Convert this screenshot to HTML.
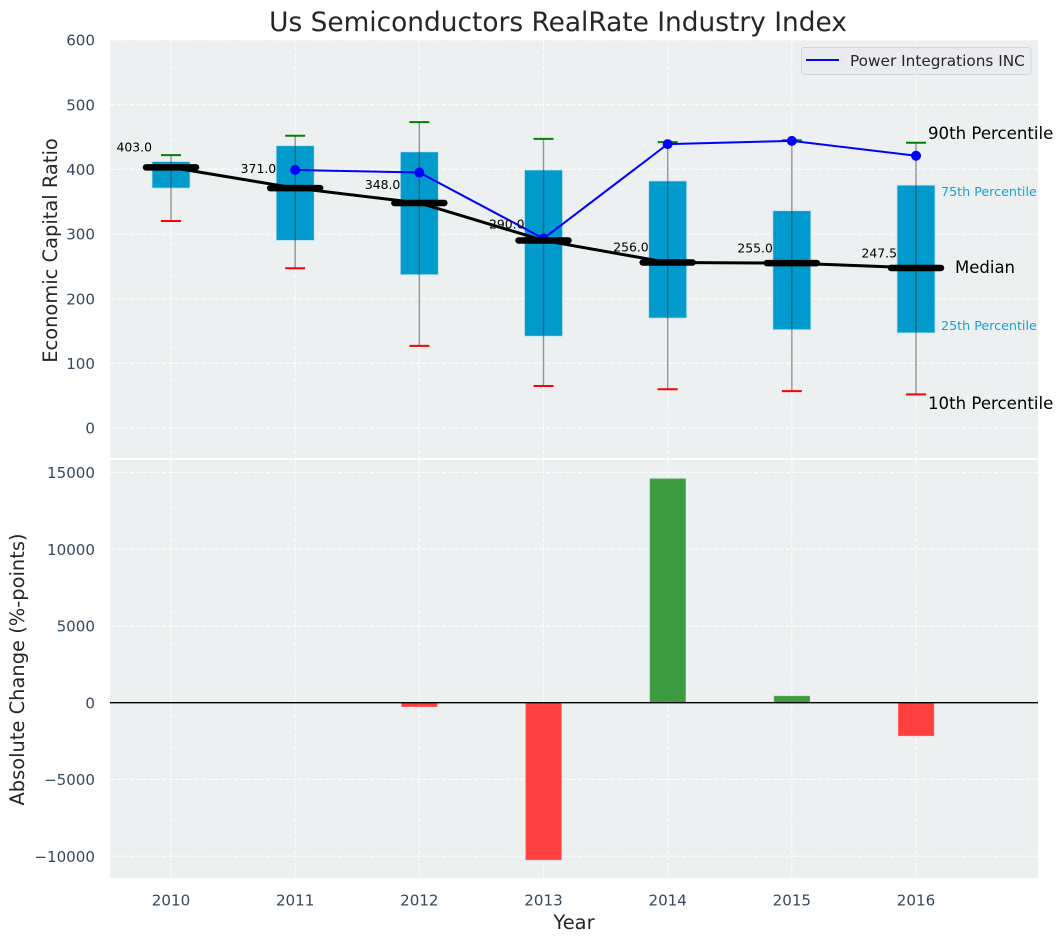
<!DOCTYPE html>
<html>
<head>
<meta charset="utf-8">
<title>Us Semiconductors RealRate Industry Index</title>
<style>
html,body{margin:0;padding:0;background:#fff;width:1063px;height:942px;overflow:hidden}
svg{display:block;font-family:"DejaVu Sans","Liberation Sans",sans-serif}
</style>
</head>
<body>
<svg id="chart" width="1063" height="942" viewBox="0 0 1063 942" xmlns="http://www.w3.org/2000/svg">
  <rect x="110" y="40" width="928" height="418" fill="#ecf0f1"/>
  <rect x="110" y="460" width="928" height="418" fill="#ecf0f1"/>
  <text x="558" y="31" text-anchor="middle" font-size="26.4" fill="#262626">Us Semiconductors RealRate Industry Index</text>
  <text transform="translate(57,250.5) rotate(-90)" text-anchor="middle" font-size="19.45" fill="#262626">Economic Capital Ratio</text>
  <text transform="translate(24,669.5) rotate(-90)" text-anchor="middle" font-size="19.45" fill="#262626">Absolute Change (%-points)</text>
  <text x="574" y="929" text-anchor="middle" font-size="19.45" fill="#262626">Year</text>
  <g id="grid"></g>
  <g id="boxes"></g>
  <g id="bars"></g>
  <line x1="110" x2="1038" y1="702.7" y2="702.7" stroke="#000" stroke-width="1.4"/>
  <g id="lines"></g>
  <g id="ticks"></g>
  <g id="labels"></g>
  <g>
    <text x="928" y="139" font-size="16.6" fill="#000">90th Percentile</text>
    <text x="941" y="196" font-size="12.7" fill="#1a9fcf">75th Percentile</text>
    <text x="955" y="273" font-size="16.5" fill="#000">Median</text>
    <text x="941" y="330" font-size="12.7" fill="#1a9fcf">25th Percentile</text>
    <text x="928" y="409" font-size="16.6" fill="#000">10th Percentile</text>
  </g>
  <g>
    <rect x="801.5" y="47.5" width="229.5" height="27" rx="3" fill="#e9ebf0" stroke="#d2d5d8" stroke-width="1"/>
    <line x1="806" x2="839" y1="60" y2="60" stroke="#0000ff" stroke-width="2"/>
    <text x="850" y="66" font-size="15.3" fill="#262626">Power Integrations INC</text>
  </g>
</svg>
<script>
const years = [2010, 2011, 2012, 2013, 2014, 2015, 2016];
const p10 = [320, 247, 127, 65, 60, 57, 52];
const p25 = [371, 290, 237, 142, 170, 152, 147];
const median = [403, 371, 348, 290, 256, 255, 247.5];
const p75 = [412, 436.5, 427, 399, 382, 336, 375.5];
const p90 = [422, 452, 473, 447, 442, 445, 441];
const company = [null, 399, 395, 293, 439, 444, 421];
const changes = [0, 0, -250, -10230, 14580, 420, -2150];
const topTicks = [0, 100, 200, 300, 400, 500, 600];
const bottomTicks = [-10000, -5000, 0, 5000, 10000, 15000];

const NS = 'http://www.w3.org/2000/svg';
const xScale = v => 171 + (v - 2010) * 124.17;
const yTop = v => 428 - v * 0.6467;
const yBottom = v => 702.7 - v * 0.01535;

function make(parent, tag, attrs, text) {
  const el = document.createElementNS(NS, tag);
  for (const k in attrs) el.setAttribute(k, attrs[k]);
  if (text !== undefined) el.textContent = text;
  document.getElementById(parent).appendChild(el);
  return el;
}
const gridStyle = {stroke: '#ffffff', 'stroke-width': 1.1, 'stroke-dasharray': '4.5 2', opacity: 0.9};

years.forEach(function (yr) {
  const x = xScale(yr);
  const g1 = make('grid', 'line', Object.assign({x1: x, x2: x, y1: 40, y2: 458}, gridStyle));
  
  
  const g2 = make('grid', 'line', Object.assign({x1: x, x2: x, y1: 460, y2: 878}, gridStyle));
  
  
  const t = make('ticks', 'text', {x: x, y: 905.5, 'text-anchor': 'middle', 'font-size': 15.1, fill: '#34495e'}, String(yr));
  
  
});
topTicks.forEach(function (v) {
  const y = yTop(v);
  const g = make('grid', 'line', Object.assign({x1: 110, x2: 1038, y1: y, y2: y}, gridStyle));
  
  
  const t = make('ticks', 'text', {x: 95, y: y + 5.6, 'text-anchor': 'end', 'font-size': 15.1, fill: '#34495e'}, String(v));
  
  
});
bottomTicks.forEach(function (v) {
  const y = yBottom(v);
  const g = make('grid', 'line', Object.assign({x1: 110, x2: 1038, y1: y, y2: y}, gridStyle));
  
  
  const label = v < 0 ? '\u2212' + Math.abs(v) : String(v);
  const t = make('ticks', 'text', {x: 95, y: y + 5.6, 'text-anchor': 'end', 'font-size': 15.1, fill: '#34495e'}, label);
  
  
});

years.forEach(function (yr, i) {
  const x = xScale(yr);
  const top = yTop(p75[i]);
  const bottom = yTop(p25[i]);
  const box = make('boxes', 'rect', {x: x - 19, y: top, width: 38, height: bottom - top, fill: '#009acd', stroke: '#bfe3ef', 'stroke-width': 0.8});
  
  
  const w = make('boxes', 'line', {x1: x, x2: x, y1: yTop(p10[i]), y2: yTop(p90[i]), stroke: '#333333', 'stroke-width': 1.4, opacity: 0.5});
  
  
  const hi = make('boxes', 'line', {x1: x - 10, x2: x + 10, y1: yTop(p90[i]), y2: yTop(p90[i]), stroke: '#008000', 'stroke-width': 2});
  
  
  const lo = make('boxes', 'line', {x1: x - 10, x2: x + 10, y1: yTop(p10[i]), y2: yTop(p10[i]), stroke: '#ff0000', 'stroke-width': 2});
  
  

  const v = changes[i];
  if (v !== 0) {
    const y0 = yBottom(0);
    const y1 = yBottom(v);
    const bar = make('bars', 'rect', {x: x - 17.6, y: Math.min(y0, y1), width: 35.4, height: Math.abs(y1 - y0), fill: v > 0 ? '#3d9c3f' : '#ff4040', stroke: v > 0 ? '#55aa58' : '#ff6060', 'stroke-width': 0.8});
    
    
  }
});

const medianPoints = years.map((yr, i) => xScale(yr) + ',' + yTop(median[i])).join(' ');
const medianLine = make('lines', 'polyline', {points: medianPoints, fill: 'none', stroke: '#000', 'stroke-width': 3});



const companyPoints = years.map((yr, i) => company[i] === null ? null : xScale(yr) + ',' + yTop(company[i])).filter(Boolean).join(' ');
const companyLine = make('lines', 'polyline', {points: companyPoints, fill: 'none', stroke: '#0000ff', 'stroke-width': 2});



years.forEach(function (yr, i) {
  if (company[i] === null) return;
  const dot = make('lines', 'circle', {cx: xScale(yr), cy: yTop(company[i]), r: 5, fill: '#0000ff'});
  
  
});

years.forEach(function (yr, i) {
  const x = xScale(yr);
  const y = yTop(median[i]);
  const m = make('lines', 'line', {x1: x - 25, x2: x + 25, y1: y, y2: y, stroke: '#000', 'stroke-width': 6.5, 'stroke-linecap': 'round'});
  
  
  const labelY = yTop(median[i] * 1.054) - 6.4 + 4.5;
  const t = make('labels', 'text', {x: x - 19, y: labelY, 'text-anchor': 'end', 'font-size': 12.4, fill: '#000'}, median[i].toFixed(1));
  
  
});
</script>
</body>
</html>
